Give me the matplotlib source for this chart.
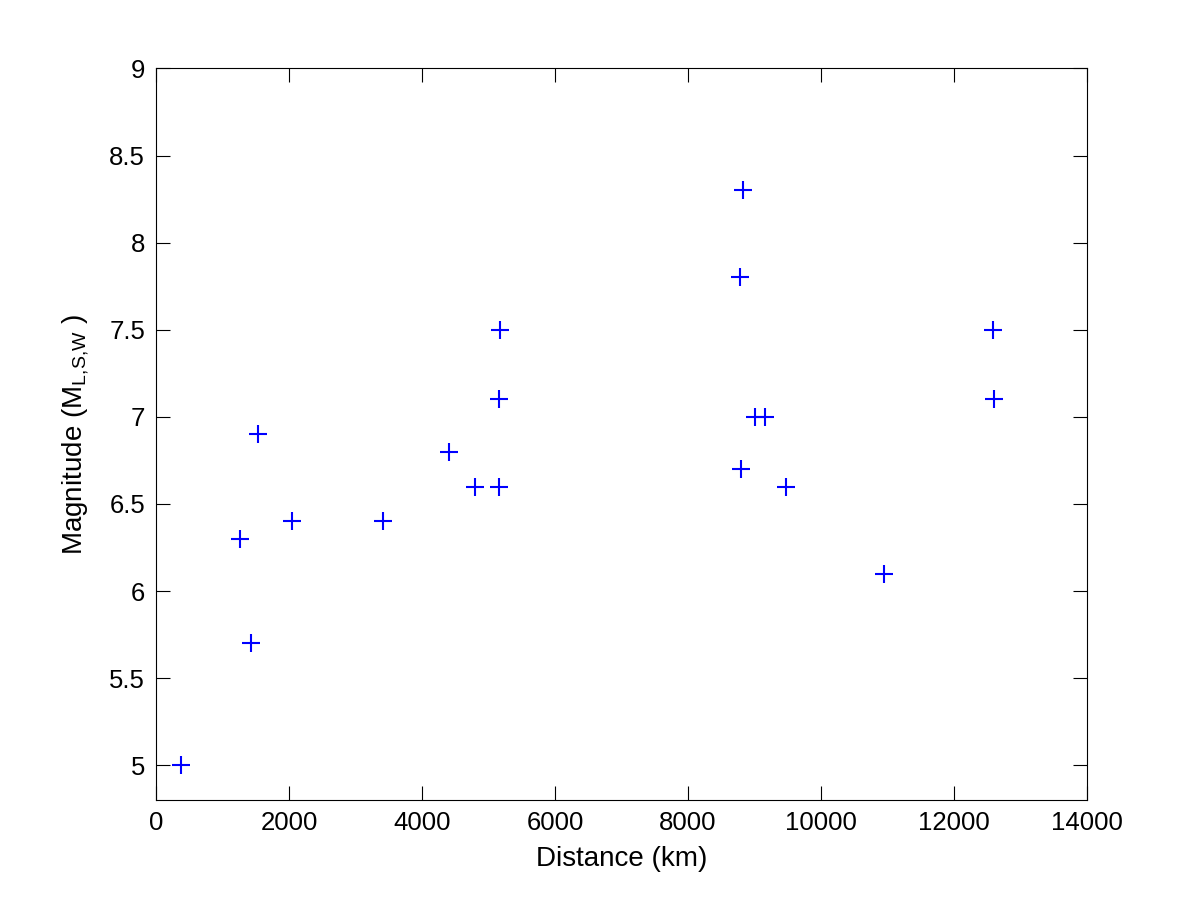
import matplotlib
matplotlib.use('Agg')
import matplotlib.pyplot as plt

plt.rcParams['font.family'] = ['Liberation Sans', 'DejaVu Sans']

# distance (km) and magnitude
distance = [375, 1265, 1430, 1535, 2045, 3415, 4405, 4800, 5155, 5155, 5170,
            8780, 8825, 8795, 9005, 9160, 9475, 10950, 12590, 12605]
magnitude = [5.0, 6.3, 5.7, 6.9, 6.4, 6.4, 6.8, 6.6, 6.6, 7.1, 7.5,
             7.8, 8.3, 6.7, 7.0, 7.0, 6.6, 6.1, 7.5, 7.1]

xticks = [0, 2000, 4000, 6000, 8000, 10000, 12000, 14000]
yticks = [5, 5.5, 6, 6.5, 7, 7.5, 8, 8.5, 9]
yticklabels = ['5', '5.5', '6', '6.5', '7', '7.5', '8', '8.5', '9']

fig = plt.figure(figsize=(12.01, 9), dpi=100)
ax = fig.add_axes([0.13, 0.111, 0.775, 0.813])

ax.plot(distance, magnitude, '+', color='#0000ff', markersize=13, markeredgewidth=1.5)

ax.set_xlim(0, 14000)
ax.set_ylim(4.8, 9)
ax.set_xticks(xticks)
ax.set_xticklabels([str(t) for t in xticks])
ax.set_yticks(yticks)
ax.set_yticklabels(yticklabels)
ax.tick_params(direction='in', top=True, right=True, length=10, width=0.8, labelsize=18.5, pad=8)
for s in ax.spines.values():
    s.set_linewidth(0.8)

ax.set_xlabel('Distance (km)', fontsize=20, labelpad=8)
ax.set_ylabel('Magnitude (M$_{\\mathregular{L{,}S{,}W}}$ )', fontsize=20, labelpad=12)

fig.savefig('out.png', dpi=100)
